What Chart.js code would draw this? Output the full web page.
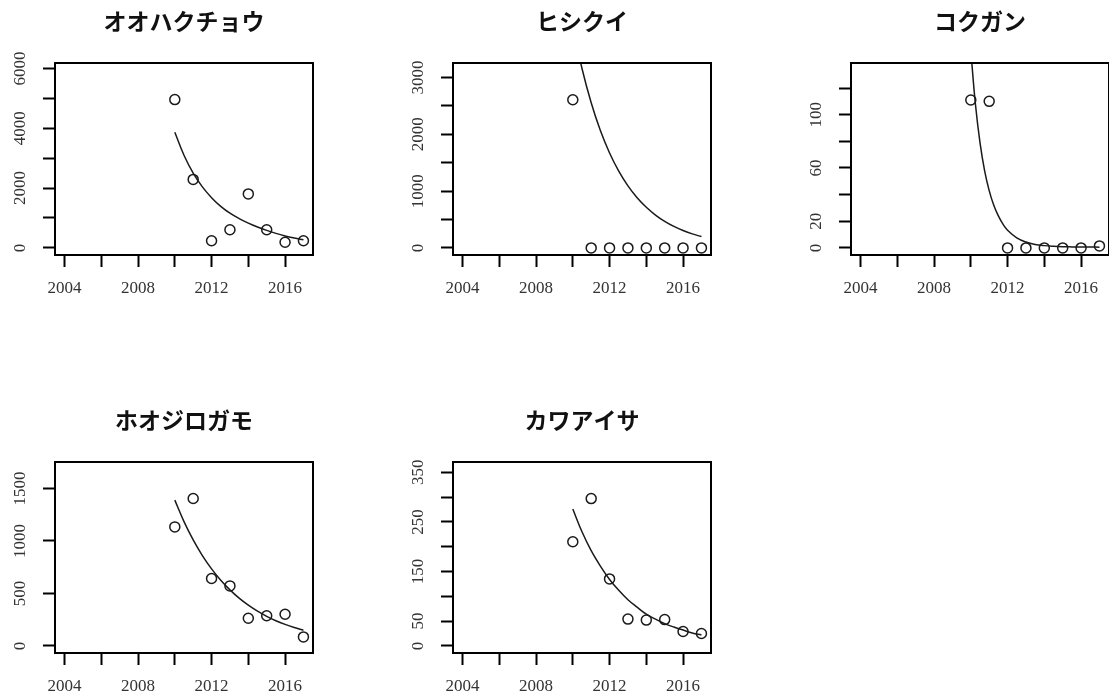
<!DOCTYPE html>
<html>
<head>
<meta charset="utf-8">
<script src="https://cdn.jsdelivr.net/npm/chart.js@4"></script>
<style>
    html, body { margin: 0; padding: 0; background: #fff; overflow: hidden; width: 1109px; height: 699px; }
    .panel { position: absolute; }
</style>
</head>
<body>
<div class="panel" style="left:0px;top:0px"><canvas id="c1" width="368" height="301"></canvas></div>
<div class="panel" style="left:398px;top:0px"><canvas id="c2" width="368" height="301"></canvas></div>
<div class="panel" style="left:796px;top:0px"><canvas id="c3" width="368" height="301"></canvas></div>
<div class="panel" style="left:0px;top:399px"><canvas id="c4" width="368" height="300"></canvas></div>
<div class="panel" style="left:398px;top:399px"><canvas id="c5" width="368" height="300"></canvas></div>

<script>
/* ---------------- Data ---------------- */

const years = [2010, 2011, 2012, 2013, 2014, 2015, 2016, 2017];
const fitYears = [2010, 2010.5, 2011, 2011.5, 2012, 2012.5, 2013, 2013.5,
                  2014, 2014.5, 2015, 2015.5, 2016, 2016.5, 2017];
const fitYearsFine = [2010, 2010.25, 2010.5, 2010.75, 2011, 2011.25, 2011.5, 2011.75,
                      2012, 2012.5, 2013, 2013.5, 2014, 2014.5, 2015, 2015.5, 2016, 2016.5, 2017];

const xTicks = [2004, 2006, 2008, 2010, 2012, 2014, 2016];
const xLabels = [2004, 2008, 2012, 2016];
const xRange = [2003.48, 2017.52];

// オオハクチョウ
const swanCounts = [4960, 2290, 240, 605, 1805, 605, 190, 240];
const swanFit = [3870, 3100, 2500, 2040, 1680, 1390, 1160, 980, 830, 700, 585, 485, 400, 330, 270];
const swanRange = [-238, 6185];
const swanTicks = [0, 1000, 2000, 3000, 4000, 5000, 6000];
const swanLabels = [0, 2000, 4000, 6000];

// ヒシクイ
const beanCounts = [2610, 0, 0, 0, 0, 0, 0, 0];
const beanFit = [3906, 3160, 2556, 2066, 1671, 1352, 1093, 884, 715, 578, 467, 378, 306, 247, 200];
const beanRange = [-125, 3257];
const beanTicks = [0, 500, 1000, 1500, 2000, 2500, 3000];
const beanLabels = [0, 1000, 2000, 3000];

// コクガン
const brantCounts = [111, 110, 0, 0, 0, 0, 0, 1.5];
const brantFit = [148, 108, 79, 58, 43, 32, 24, 17.8, 13.3, 7.6, 4.4, 2.6, 1.7, 1.2, 0.9, 0.75, 0.65, 0.6, 0.55];
const brantRange = [-5.34, 138.8];
const brantTicks = [0, 20, 40, 60, 80, 100, 120];
const brantLabels = [0, 20, 60, 100];

// ホオジロガモ
const goldeneyeCounts = [1134, 1404, 642, 572, 264, 287, 302, 86];
const goldeneyeFit = [1389, 1184, 1010, 861, 734, 626, 534, 455, 388, 331, 282, 240, 205, 175, 149];
const goldeneyeRange = [-67.4, 1752];
const goldeneyeTicks = [0, 500, 1000, 1500];
const goldeneyeLabels = [0, 500, 1000, 1500];

// カワアイサ
const merganserCounts = [210, 297, 135, 54, 52, 53, 29, 25];
const merganserFit = [276, 230, 192, 161, 134, 112, 93, 78, 64, 54, 45, 38, 32, 26, 22];
const merganserRange = [-14.3, 370.7];
const merganserTicks = [0, 50, 100, 150, 200, 250, 300, 350];
const merganserLabels = [0, 50, 150, 250, 350];

/* ---------------- Styles ---------------- */

const tickFont = { family: "'Liberation Serif', 'DejaVu Serif', serif", size: 17 };
const tickColor = '#333';
const inkColor = '#1a1a1a';

const measureCtx = document.createElement('canvas').getContext('2d');
measureCtx.font = '17px "Liberation Serif"';

// draws the frame round the plotting region
const boxPlugin = {
    id: 'box',
    afterDatasetsDraw(chart) {
        const { ctx, chartArea: a } = chart;
        ctx.save();
        ctx.strokeStyle = '#000';
        ctx.lineWidth = 2;
        ctx.strokeRect(a.left, a.top, a.right - a.left, a.bottom - a.top);
        ctx.restore();
    }
};

/* ---------------- Panels ---------------- */

function makePanel(id, title, counts, fx, fy, yRange, yTicks, yLabels) {
    const widest = Math.max(...yLabels.map(v => measureCtx.measureText(String(v)).width));

    return new Chart(document.getElementById(id), {
        type: 'scatter',
        data: {
            datasets: [
                {
                    type: 'line',
                    data: fx.map((x, i) => ({ x, y: fy[i] })),
                    borderColor: inkColor,
                    borderWidth: 1.5,
                    pointRadius: 0,
                    fill: false,
                    tension: 0.4
                },
                {
                    data: years.map((x, i) => ({ x, y: counts[i] })),
                    pointStyle: 'circle',
                    pointRadius: 5,
                    pointBorderWidth: 1.5,
                    borderColor: inkColor,
                    backgroundColor: 'rgba(0,0,0,0)'
                }
            ]
        },
        options: {
            responsive: false,
            animation: false,
            devicePixelRatio: 1,
            layout: { padding: { top: 0, left: 0, right: 55, bottom: 0 } },
            plugins: {
                legend: { display: false },
                tooltip: { enabled: false },
                title: {
                    display: true,
                    fullSize: false,
                    text: title,
                    color: '#111',
                    font: { family: "'Noto Sans CJK JP', sans-serif", size: 23, weight: 'bold' },
                    padding: { top: 7, bottom: 28.4 }
                }
            },
            scales: {
                x: {
                    type: 'linear',
                    min: xRange[0],
                    max: xRange[1],
                    afterBuildTicks: s => { s.ticks = xTicks.map(v => ({ value: v })); },
                    afterFit: s => { s.height = 46; },
                    ticks: {
                        autoSkip: false,
                        maxRotation: 0,
                        padding: 11,
                        font: tickFont,
                        color: tickColor,
                        callback: v => xLabels.includes(v) ? String(v) : ''
                    },
                    grid: { drawOnChartArea: false, tickLength: 12, tickWidth: 2, tickColor: '#000' },
                    border: { display: false }
                },
                y: {
                    type: 'linear',
                    min: yRange[0],
                    max: yRange[1],
                    afterBuildTicks: s => { s.ticks = yTicks.map(v => ({ value: v })); },
                    afterFit: s => { s.width = 55; },
                    ticks: {
                        autoSkip: false,
                        minRotation: 90,
                        maxRotation: 90,
                        crossAlign: 'center',
                        padding: 22 - widest / 2,
                        font: tickFont,
                        color: tickColor,
                        callback: v => yLabels.includes(v) ? String(v) : ''
                    },
                    grid: { drawOnChartArea: false, tickLength: 12, tickWidth: 2, tickColor: '#000' },
                    border: { display: false }
                }
            }
        },
        plugins: [boxPlugin]
    });
}

makePanel('c1', 'オオハクチョウ', swanCounts, fitYears, swanFit, swanRange, swanTicks, swanLabels);
makePanel('c2', 'ヒシクイ', beanCounts, fitYears, beanFit, beanRange, beanTicks, beanLabels);
makePanel('c3', 'コクガン', brantCounts, fitYearsFine, brantFit, brantRange, brantTicks, brantLabels);
makePanel('c4', 'ホオジロガモ', goldeneyeCounts, fitYears, goldeneyeFit, goldeneyeRange, goldeneyeTicks, goldeneyeLabels);
makePanel('c5', 'カワアイサ', merganserCounts, fitYears, merganserFit, merganserRange, merganserTicks, merganserLabels);
</script>
</body>
</html>
